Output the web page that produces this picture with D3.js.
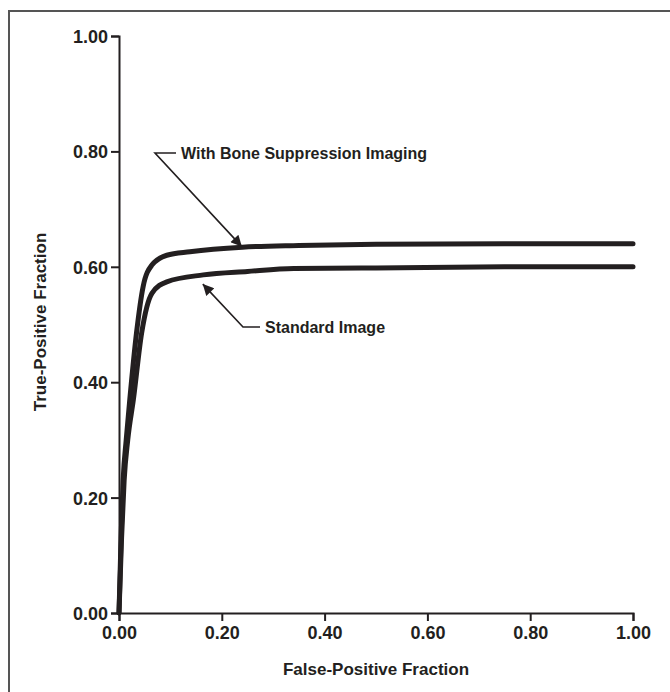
<!DOCTYPE html>
<html>
<head>
<meta charset="utf-8">
<script src="https://cdn.jsdelivr.net/npm/d3@7"></script>
<style>
  body { margin: 0; background: #fff; }
  text { font-family: "Liberation Sans", Arial, sans-serif; font-weight: bold; fill: #231f20; }
</style>
</head>
<body>
<svg id="chart" width="670" height="692"></svg>
<script>
const xTicks = [0, 0.2, 0.4, 0.6, 0.8, 1.0];
const yTicks = [0, 0.2, 0.4, 0.6, 0.8, 1.0];

// ROC curves: [false-positive, true-positive]
const boneSuppression = [
  [0, 0], [0.004, 0.13], [0.008, 0.23], [0.014, 0.3], [0.021, 0.37], [0.034, 0.485],
  [0.047, 0.566], [0.064, 0.603], [0.093, 0.62], [0.138, 0.626], [0.24, 0.634],
  [0.35, 0.637], [0.5, 0.639], [0.75, 0.64], [1.0, 0.64]
];
const standardImage = [
  [0, 0], [0.005, 0.13], [0.01, 0.23], [0.017, 0.3], [0.028, 0.37], [0.044, 0.485],
  [0.064, 0.554], [0.093, 0.574], [0.164, 0.586], [0.25, 0.592], [0.34, 0.597],
  [0.5, 0.598], [0.75, 0.6], [1.0, 0.6]
];

const svg = d3.select('#chart');
const ink = '#231f20';

// frame (only top and left edges are visible)
svg.append('path')
  .attr('d', 'M9,692 L9,11 L670,11')
  .attr('fill', 'none')
  .attr('stroke', '#555')
  .attr('stroke-width', 2);

const x = d3.scaleLinear().domain([0, 1]).range([119, 633]);
const y = d3.scaleLinear().domain([0, 1]).range([613, 36]);

const xAxis = svg.append('g')
  .attr('transform', 'translate(0,613)')
  .call(d3.axisBottom(x).tickValues(xTicks).tickFormat(d3.format('.2f')).tickSize(8).tickPadding(5));
const yAxis = svg.append('g')
  .attr('transform', 'translate(119,0)')
  .call(d3.axisLeft(y).tickValues(yTicks).tickFormat(d3.format('.2f')).tickSize(8).tickPadding(3));

[xAxis, yAxis].forEach(g => {
  g.select('.domain').attr('stroke', ink).attr('stroke-width', 2);
  g.selectAll('.tick line').attr('stroke', ink).attr('stroke-width', 2);
  g.selectAll('.tick text')
    .attr('font-family', '"Liberation Sans", Arial, sans-serif')
    .attr('font-weight', 'bold')
    .attr('font-size', 18)
    .attr('fill', ink);
});
yAxis.selectAll('.tick text').attr('dy', '0.36em');

svg.append('text')
  .attr('x', 376)
  .attr('y', 675)
  .attr('text-anchor', 'middle')
  .attr('font-size', 17)
  .text('False-Positive Fraction');

svg.append('text')
  .attr('transform', 'translate(46,322) rotate(-90)')
  .attr('text-anchor', 'middle')
  .attr('font-size', 17)
  .text('True-Positive Fraction');

const line = d3.line()
  .x(d => x(d[0]))
  .y(d => y(d[1]))
  .curve(d3.curveMonotoneX);

[boneSuppression, standardImage].forEach(s => {
  svg.append('path')
    .datum(s)
    .attr('d', line)
    .attr('fill', 'none')
    .attr('stroke', ink)
    .attr('stroke-width', 5)
    .attr('stroke-linecap', 'round');
});

// annotation leaders with arrowheads
svg.append('defs').append('marker')
  .attr('id', 'arrow')
  .attr('viewBox', '0 0 10 10')
  .attr('refX', 10)
  .attr('refY', 5)
  .attr('markerWidth', 15)
  .attr('markerHeight', 11)
  .attr('markerUnits', 'userSpaceOnUse')
  .attr('orient', 'auto')
  .append('path')
  .attr('d', 'M0,0 L10,5 L0,10 Z')
  .attr('fill', ink);

function callout(label, textX, textY, elbowX, tip) {
  svg.append('path')
    .attr('d', `M${textX - 5},${textY} L${elbowX},${textY} L${x(tip[0])},${y(tip[1])}`)
    .attr('fill', 'none')
    .attr('stroke', ink)
    .attr('stroke-width', 1.6)
    .attr('marker-end', 'url(#arrow)');
  svg.append('text')
    .attr('x', textX)
    .attr('y', textY)
    .attr('dy', '0.35em')
    .attr('font-size', 16)
    .text(label);
}

callout('With Bone Suppression Imaging', 181, 153, 155, [0.239, 0.635]);
callout('Standard Image', 265, 327, 243, [0.163, 0.57]);
</script>
</body>
</html>
